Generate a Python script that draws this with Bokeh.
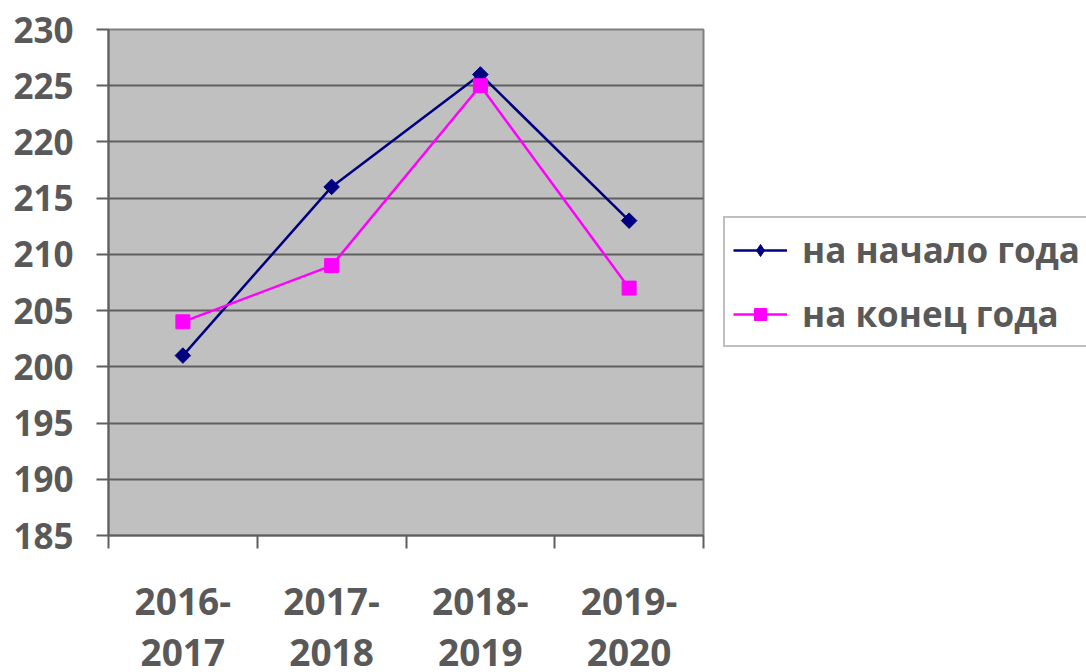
import math
from bokeh.plotting import figure
from bokeh.layouts import row
from bokeh.models import (Range1d, FixedTicker, LinearAxis, Legend, LegendItem)
from bokeh.embed import file_html
from bokeh.resources import INLINE

# Data
periods_line1 = ["2016-", "2017-", "2018-", "2019-"]
periods_line2 = ["2017", "2018", "2019", "2020"]
start_of_year = [201, 216, 226, 213]   # на начало года
end_of_year = [204, 209, 225, 207]     # на конец года
series_names = ["на начало года", "на конец года"]
y_ticks = [185, 190, 195, 200, 205, 210, 215, 220, 225, 230]

xs = [i + 0.5 for i in range(len(periods_line1))]

FONT = "Open Sans"
TXT = "#595959"
GRID = "#5f5f5f"
NAVY = "#000080"
PINK = "#ff00ff"

p = figure(width=705, height=672, output_backend="svg", toolbar_location=None,
           x_range=Range1d(0, 4), y_range=Range1d(185, 230),
           x_axis_type=None,
           min_border_left=108, min_border_top=29, min_border_right=2,
           min_border_bottom=137)

p.background_fill_color = "#c0c0c0"
p.border_fill_color = "white"
p.outline_line_color = "#808080"
p.outline_line_width = 2

# Y axis
ya = p.yaxis[0]
ya.ticker = FixedTicker(ticks=y_ticks)
ya.axis_line_color = GRID
ya.axis_line_width = 2
ya.major_tick_line_color = GRID
ya.major_tick_line_width = 2
ya.major_tick_out = 12
ya.major_tick_in = 0
ya.minor_tick_line_color = None
ya.major_label_text_font = FONT
ya.major_label_text_font_style = "bold"
ya.major_label_text_font_size = "35px"
ya.major_label_text_color = TXT
ya.major_label_standoff = 23

p.ygrid.ticker = FixedTicker(ticks=y_ticks)
p.ygrid.grid_line_color = GRID
p.ygrid.grid_line_width = 2
p.xgrid.grid_line_color = None

# X axis: first line of labels + boundary ticks
xa1 = LinearAxis(ticker=FixedTicker(ticks=xs, minor_ticks=[0, 1, 2, 3, 4]),
                 major_label_overrides={x: s for x, s in zip(xs, periods_line1)})
xa1.axis_line_color = GRID
xa1.axis_line_width = 2
xa1.major_tick_line_color = None
xa1.minor_tick_line_color = GRID
xa1.minor_tick_line_width = 2
xa1.minor_tick_out = 13
xa1.minor_tick_in = 0
xa1.major_tick_out = 13
xa1.major_tick_in = 0
xa1.major_label_text_font = FONT
xa1.major_label_text_font_style = "bold"
xa1.major_label_text_font_size = "37px"
xa1.major_label_text_color = TXT
xa1.major_label_standoff = 39
p.add_layout(xa1, "below")

xa2 = LinearAxis(ticker=FixedTicker(ticks=xs),
                 major_label_overrides={x: s for x, s in zip(xs, periods_line2)})
xa2.axis_line_color = None
xa2.major_tick_line_color = None
xa2.minor_tick_line_color = None
xa2.major_tick_out = 0
xa2.major_tick_in = 0
xa2.major_label_text_font = FONT
xa2.major_label_text_font_style = "bold"
xa2.major_label_text_font_size = "37px"
xa2.major_label_text_color = TXT
xa2.major_label_standoff = 21
p.add_layout(xa2, "below")

# Series
p.line(xs, start_of_year, line_color=NAVY, line_width=2.5)
p.scatter(xs, start_of_year, marker="square", angle=math.pi / 4, size=11,
          fill_color=NAVY, line_color=NAVY)
p.line(xs, end_of_year, line_color=PINK, line_width=2.5)
p.scatter(xs, end_of_year, marker="square", size=14,
          fill_color=PINK, line_color=PINK)

# Legend panel (separate canvas to the right of the plot area);
# the series are re-plotted there outside its view, only for the legend keys.
lg = figure(width=381, height=672, output_backend="svg", toolbar_location=None,
            x_range=Range1d(0, 1), y_range=Range1d(0, 1),
            x_axis_type=None, y_axis_type=None,
            min_border_left=0, min_border_right=0, min_border_top=0,
            min_border_bottom=0)
lg.grid.visible = False
lg.outline_line_color = None
lg.background_fill_color = "white"
lg.border_fill_color = "white"

k1l = lg.line(xs, start_of_year, line_color=NAVY, line_width=2.5)
k1m = lg.scatter(xs, start_of_year, marker="diamond", size=20,
                 fill_color=NAVY, line_color=NAVY)
k2l = lg.line(xs, end_of_year, line_color=PINK, line_width=2.5)
k2m = lg.scatter(xs, end_of_year, marker="square", size=14,
                 fill_color=PINK, line_color=PINK)

legend = Legend(items=[
    LegendItem(label=series_names[0], renderers=[k1l, k1m]),
    LegendItem(label=series_names[1], renderers=[k2l, k2m]),
], location=(18, 188))
legend.label_text_font = FONT
legend.label_text_font_style = "bold"
legend.label_text_font_size = "35px"
legend.label_text_color = TXT
legend.glyph_width = 54
legend.glyph_height = 30
legend.label_standoff = 15
legend.spacing = 17
legend.padding = 8
legend.margin = 0
legend.border_line_color = "#808080"
legend.border_line_width = 2
legend.background_fill_color = "white"
legend.background_fill_alpha = 1
lg.add_layout(legend, "center")

layout = row(p, lg, spacing=0)
open("out.html", "w").write(file_html(layout, INLINE))
